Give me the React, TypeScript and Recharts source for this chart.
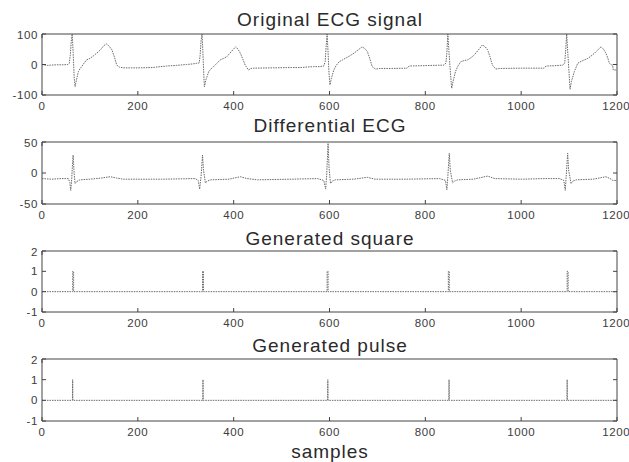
import React from "react";
import { LineChart, Line, XAxis, YAxis } from "recharts";

// Sample index / amplitude pairs for each trace
const ecgSignal: [number, number][] = [
  [0, 0], [6, -2], [12, -3], [18, -2], [30, -1], [45, -1], [54, 0], [57, 4], [59, 30], [61, 75],
  [63, 100], [65, 40], [67, -40], [69, -73], [72, -50], [76, -23], [80, -12], [83, -7], [88, 5],
  [93, 15], [100, 20], [107, 28], [114, 37], [122, 48], [128, 60], [134, 68], [139, 62], [146, 48],
  [151, 25], [156, -2], [162, -9], [170, -11], [200, -11], [230, -10], [247, -7], [260, -5], [280, -3],
  [302, 0], [315, 2], [323, 4], [328, 5], [330, 30], [332, 78], [334, 100], [336, 30], [338, -45],
  [339, -73], [342, -50], [348, -23], [353, -14], [358, -7], [365, 4], [372, 15], [379, 20], [386, 26],
  [395, 42], [404, 58], [409, 50], [414, 37], [419, 18], [424, -2], [431, -18], [436, -13], [442, -12],
  [480, -11], [520, -10], [539, -10], [555, -8], [567, -7], [580, -7], [588, -5], [591, 10], [593, 60],
  [595, 100], [597, 40], [599, -30], [601, -67], [604, -45], [609, -18], [614, -3], [620, 9], [627, 15],
  [633, 20], [642, 28], [651, 37], [660, 48], [668, 58], [674, 52], [679, 42], [684, 20], [689, -7],
  [696, -15], [705, -13], [730, -13], [762, -12], [766, -5], [790, -4], [815, -3], [839, -2], [843, 5],
  [845, 40], [847, 100], [849, 50], [852, -20], [855, -78], [858, -55], [863, -23], [868, -5], [874, 9],
  [881, 13], [888, 15], [895, 22], [902, 31], [911, 48], [919, 64], [925, 58], [930, 48], [935, 25],
  [940, -2], [947, -15], [955, -13], [1000, -12], [1048, -12], [1052, -5], [1070, -4], [1087, -2],
  [1091, 5], [1093, 50], [1095, 100], [1097, 45], [1100, -30], [1102, -81], [1105, -55], [1111, -23],
  [1118, 4], [1125, 10], [1132, 15], [1139, 20], [1146, 28], [1153, 37], [1160, 48], [1167, 58],
  [1172, 50], [1177, 37], [1181, 20], [1184, 4], [1188, -1], [1191, -2], [1192, -18], [1200, -18],
];

const diffEcg: [number, number][] = [
  [0, -9], [20, -10], [40, -9], [55, -9], [58, -15], [60, -28], [62, -10], [64, 20], [65, 29], [67, 0],
  [69, -17], [72, -14], [79, -11], [100, -10], [125, -8], [142, -6], [155, -8], [170, -10], [250, -10],
  [320, -9], [326, -12], [329, -26], [332, -5], [335, 29], [337, 5], [341, -16], [345, -13], [352, -11],
  [390, -10], [414, -6], [428, -9], [450, -11], [520, -10], [575, -9], [588, -12], [592, -26], [594, -5],
  [597, 48], [599, 10], [602, -17], [606, -13], [612, -11], [650, -10], [679, -7], [695, -10], [760, -10],
  [830, -9], [842, -12], [845, -27], [847, -5], [850, 32], [852, 5], [857, -16], [861, -13], [868, -11],
  [900, -10], [930, -5], [945, -9], [1000, -10], [1050, -9], [1080, -9], [1089, -12], [1092, -28],
  [1094, -5], [1097, 32], [1099, 5], [1104, -17], [1108, -13], [1115, -11], [1150, -10], [1177, -6],
  [1188, -10], [1191, -12], [1200, -12],
];

const squareWave: [number, number][] = [
  [0, 0], [64, 0], [64, 1], [66, 1], [66, 0], [335, 0], [335, 1], [337, 1], [337, 0], [595, 0],
  [595, 1], [597, 1], [597, 0], [848, 0], [848, 1], [850, 1], [850, 0], [1096, 0], [1096, 1],
  [1098, 1], [1098, 0], [1200, 0],
];

const pulseTrain: [number, number][] = [
  [0, 0], [63.5, 0], [64, 1], [64.5, 0], [335.5, 0], [336, 1], [336.5, 0], [596, 0], [596.5, 1],
  [597, 0], [849, 0], [849.5, 1], [850, 0], [1095.5, 0], [1096, 1], [1096.5, 0], [1200, 0],
];

const xTicks = [0, 200, 400, 600, 800, 1000, 1200];
const ecgTicks = [-100, 0, 100];
const diffTicks = [-50, 0, 50];
const binaryTicks = [-1, 0, 1, 2];

const titles = ["Original ECG signal", "Differential ECG", "Generated square", "Generated pulse"];
const xLabel = "samples";

const FONT = "'Liberation Sans', Arial, sans-serif";
const AXIS = "#444";
const TRACE = "#6a6a6a";

const tickStyle = { fontSize: 11.5, fill: "#3c3c3c", fontFamily: FONT, letterSpacing: 0.6 };

type PanelProps = {
  top: number;
  boxHeight: number;
  series: [number, number][];
  domain: [number, number];
  yTicks: number[];
};

const TOP_PAD = 5;
const X_AXIS_H = 24;

function Panel({ top, boxHeight, series, domain, yTicks }: PanelProps) {
  const data = series.map(([x, y]) => ({ x, y }));
  const height = TOP_PAD + boxHeight + X_AXIS_H;
  return (
    <div style={{ position: "absolute", left: 0, top: top - TOP_PAD }}>
      <LineChart width={629} height={height} data={data} margin={{ top: TOP_PAD - 1, right: 0, bottom: 0, left: 0 }}>
        <XAxis
          dataKey="x"
          type="number"
          domain={[0, 1200]}
          ticks={xTicks}
          height={X_AXIS_H}
          tickSize={-4}
          tickMargin={11}
          axisLine={{ stroke: AXIS }}
          tickLine={{ stroke: AXIS }}
          tick={tickStyle}
          allowDataOverflow
        />
        <XAxis
          xAxisId="top"
          orientation="top"
          type="number"
          domain={[0, 1200]}
          ticks={xTicks}
          height={1}
          tickSize={-4}
          tickFormatter={() => ""}
          axisLine={{ stroke: AXIS }}
          tickLine={{ stroke: AXIS }}
          allowDataOverflow
        />
        <YAxis
          type="number"
          domain={domain}
          ticks={yTicks}
          width={42}
          tickSize={-4}
          tickMargin={8}
          axisLine={{ stroke: AXIS }}
          tickLine={{ stroke: AXIS }}
          tick={tickStyle}
          allowDataOverflow
        />
        <YAxis
          yAxisId="right"
          orientation="right"
          type="number"
          domain={domain}
          ticks={yTicks}
          width={12}
          tickSize={-4}
          tickFormatter={() => ""}
          axisLine={{ stroke: AXIS }}
          tickLine={{ stroke: AXIS }}
          allowDataOverflow
        />
        <Line
          type="linear"
          dataKey="y"
          dot={false}
          stroke={TRACE}
          strokeWidth={1}
          strokeDasharray="1.5 1"
          isAnimationActive={false}
        />
      </LineChart>
    </div>
  );
}

function Title({ text, y, size = 19 }: { text: string; y: number; size?: number }) {
  return (
    <div
      style={{
        position: "absolute",
        left: 0,
        width: 660,
        top: y - 8,
        height: 16,
        lineHeight: "16px",
        textAlign: "center",
        fontFamily: FONT,
        fontSize: size,
        letterSpacing: 1,
        color: "#2a2a2a",
        whiteSpace: "nowrap",
      }}
    >
      {text}
    </div>
  );
}

export default function App() {
  return (
    <div style={{ position: "fixed", left: 0, top: 0, width: 629, height: 462, background: "#fff", overflow: "hidden" }}>
      <Panel top={34} boxHeight={61} series={ecgSignal} domain={[-100, 100]} yTicks={ecgTicks} />
      <Panel top={142} boxHeight={62} series={diffEcg} domain={[-50, 50]} yTicks={diffTicks} />
      <Panel top={251} boxHeight={61} series={squareWave} domain={[-1, 2]} yTicks={binaryTicks} />
      <Panel top={359} boxHeight={62} series={pulseTrain} domain={[-1, 2]} yTicks={binaryTicks} />
      <Title text={titles[0]} y={20} />
      <Title text={titles[1]} y={126} />
      <Title text={titles[2]} y={239} />
      <Title text={titles[3]} y={346} />
      <Title text={xLabel} y={452} />
    </div>
  );
}
